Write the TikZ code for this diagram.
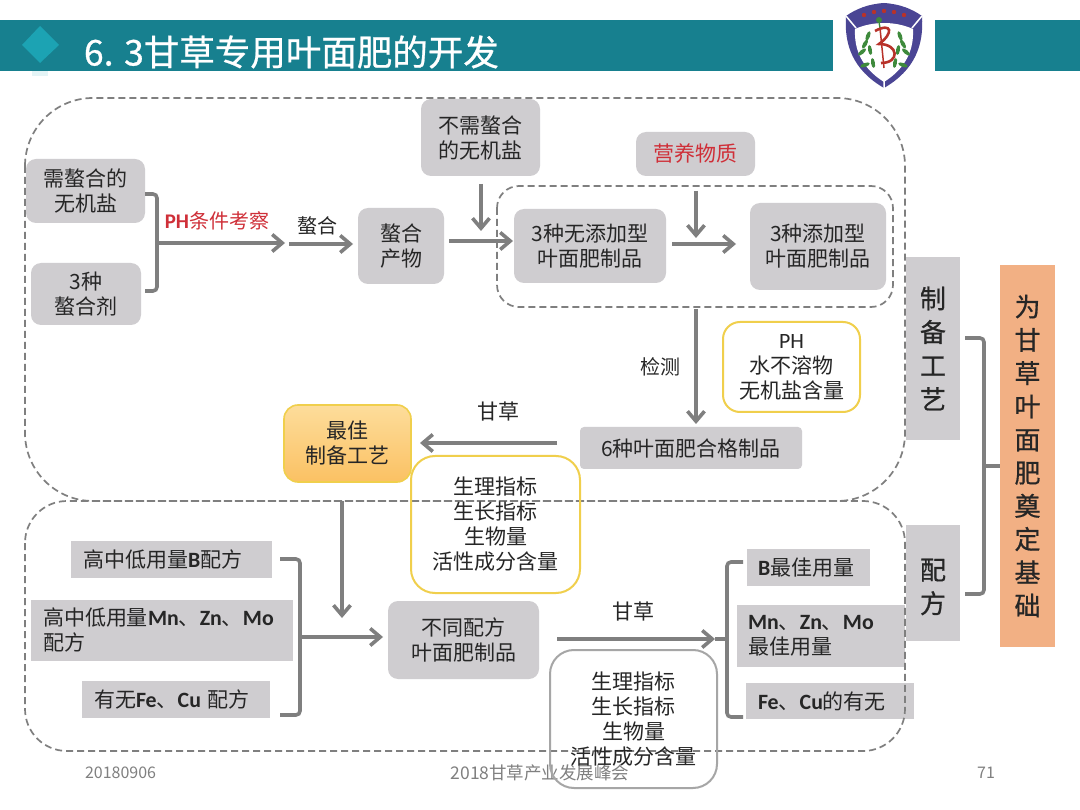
\documentclass[tikz,border=0pt]{standalone}
\usepackage{fontspec}
\setmainfont{Noto Sans CJK SC}
\newfontfamily\latinb{Carlito}[Scale=1.04]
\newfontfamily\heavy{Noto Sans CJK SC}[FakeBold=0.7]
\usetikzlibrary{arrows.meta,shapes.geometric}
\definecolor{teal1}{HTML}{17808F}
\definecolor{teal2}{HTML}{1CA3B3}
\definecolor{gbox}{HTML}{CFCDD0}
\definecolor{gline}{HTML}{7F7F7F}
\definecolor{tx}{HTML}{262626}
\definecolor{yel}{HTML}{F0CF4C}
\definecolor{shield}{HTML}{4A4594}
\definecolor{sred}{HTML}{B8322A}
\definecolor{sgreen}{HTML}{3E8A3C}
\definecolor{redt}{HTML}{CF2F38}
\definecolor{peach}{HTML}{F2B084}
\definecolor{orgtop}{HTML}{FDDD9B}
\definecolor{orgbot}{HTML}{FBC163}
\tikzset{
 x=1pt,y=-1pt,
 every node/.style={font=\fontsize{21}{25}\selectfont,text=tx,align=center,inner sep=0pt,outer sep=0pt},
 gr/.style={fill=gbox,rounded corners=10pt,anchor=center},
 sq/.style={fill=gbox,anchor=center},
 dsh/.style={draw=gline,line width=1.7pt,dash pattern=on 7pt off 4pt},
 arr/.style={draw=gline,line width=3.6pt,-{Straight Barb[length=10pt,width=17pt,line width=3.6pt]}},
 brk/.style={draw=gline,line width=3.6pt,rounded corners=4pt},
 stub/.style={draw=gline,line width=3.6pt},
 lab/.style={font=\fontsize{21}{24}\selectfont},
 yb/.style={draw=yel,line width=2pt,rounded corners=17pt,anchor=center},
 plain/.style={anchor=center},
 lf/.style={fill=sgreen,ellipse,minimum width=10pt,minimum height=4pt},
 sidet/.style={font=\fontsize{26}{33.6}\selectfont\heavy},
}
\newcommand{\bx}[6][]{\node[#2,minimum width=#5-#3,minimum height=#6-#4,#1] at ({(#3+#5)/2},{(#4+#6)/2})}
\newcommand{\B}[1]{{\latinb\bfseries #1}}
\begin{document}
\begin{tikzpicture}
\useasboundingbox (0,0) rectangle (1080,810);
\fill[white] (0,0) rectangle (1080,810);
% header
\fill[teal1] (0,20) rectangle (833,71);
\fill[teal1] (935,20) rectangle (1080,71);
\fill[teal2!12] (32,71) rectangle (48,76);
\fill[teal2] (40,26) -- (59,45) -- (40,63) -- (22,45) -- cycle;
\node[font=\fontsize{35.5}{38}\selectfont\heavy,text=white,anchor=west] (title) at (84,52) {6. 3甘草专用叶面肥的开发};
% logo
\fill[shield] (884,3) .. controls (868,4) and (856,9) .. (846,16) .. controls (844,45) and (853,70) .. (884,88) .. controls (915,70) and (924,45) .. (922,16) .. controls (912,9) and (900,4) .. (884,3) -- cycle;
\fill[white] (884,23) .. controls (874,23) and (864,25) .. (855,29) .. controls (854,50) and (862,68) .. (884,82) .. controls (906,68) and (914,50) .. (913,29) .. controls (904,25) and (894,23) .. (884,23) -- cycle;
\draw[white,line width=1.5pt] (846,16)--(856,28) (922,16)--(912,28) (884,80)--(884,88);
\foreach \p/\q in {864/15,874/12,884/11,894/12,904/15}{\fill[sred] (\p,\q) circle (2.2pt);}
\fill[sgreen] (879,20) circle (3pt);
\draw[sgreen,line width=1.4pt] (879,22) -- (880,28);
\draw[sred,line width=1.5pt] (880,28) -- (884,68);
\draw[sred,line width=2.6pt] (875,31) .. controls (892,22) and (894,33) .. (879,44) .. controls (899,44) and (900,63) .. (881,63);
\foreach \a/\b/\r in {868/36/70,865/44/60,862/52/40,870/50/100,873/63/100,865/65/20}{\node[lf,rotate=\r] (lL\a) at (\a,\b) {};}
\foreach \a/\b/\r in {900/36/110,903/44/120,906/52/140,898/50/80,895/63/80,903/65/160}{\node[lf,rotate=\r] (lR\a) at (\a,\b) {};}
% top nodes
\bx{gr}{26}{159}{145}{223} (n1) {需螯合的\\无机盐};
\bx{gr}{31}{263}{141}{325} (n2) {3种\\螯合剂};
\bx{gr}{358}{208}{444}{284} (n3) {螯合\\产物};
\bx{gr}{421}{99}{540}{176} (n4) {不需螯合\\的无机盐};
\bx[text=redt]{gr}{636}{132}{755}{176} (n5) {营养物质};
\bx{gr}{514}{209}{666}{283} (n6) {3种无添加型\\叶面肥制品};
\bx{gr}{750}{203}{886}{290} (n7) {3种添加型\\叶面肥制品};
\bx{yb}{723}{322}{860}{412} (n8) {\latinb PH\\水不溶物\\无机盐含量};
\bx[rounded corners=4pt]{gr}{580}{427}{802}{469} (n9) {6种叶面肥合格制品};
\bx[draw=yel,line width=1.6pt,rounded corners=14pt,top color=orgtop,bottom color=orgbot]{plain}{284}{405}{411}{482} (n10) {最佳\\制备工艺};
% side
\bx[sidet]{sq}{906}{257}{960}{440} (s1) {制\\备\\工\\艺};
\node[sq,minimum width=54,minimum height=116] (s2) at (933,583) {};
\node[sidet] (s2t) at (933,587) {配\\方};
\bx[sidet,font=\fontsize{26}{33.2}\selectfont\heavy,fill=peach]{plain}{1000}{265}{1055}{647} (s3) {为\\甘\\草\\叶\\面\\肥\\奠\\定\\基\\础};
% lower nodes
\bx[align=left,inner xsep=12pt,text width=177pt]{sq}{71}{541}{272}{578} (l1) {高中低用量\B{B}配方};
\bx[align=left,inner xsep=12pt,text width=238pt]{sq}{31}{600}{293}{661} (l2) {高中低用量\B{Mn}、\B{Zn}、\B{Mo}\\配方};
\bx[align=left,inner xsep=12pt,text width=164pt]{sq}{82}{681}{270}{718} (l3) {有无\B{Fe}、\B{Cu} 配方};
\bx{gr}{388}{601}{539}{679} (m) {不同配方\\叶面肥制品};
\bx[align=left,inner xsep=11pt,text width=101pt]{sq}{747}{549}{870}{586} (r1) {\B{B}最佳用量};
\bx[align=left,inner xsep=11pt,text width=146pt]{sq}{737}{605}{905}{667} (r2) {\B{Mn}、\B{Zn}、\B{Mo}\\最佳用量};
\bx[align=left,inner xsep=12pt,text width=144pt]{sq}{746}{683}{914}{719} (r3) {\B{Fe}、\B{Cu}的有无};
% dashed regions
\draw[dsh,rounded corners=68pt] (25,98) rectangle (905,501);
\draw[dsh,rounded corners=42pt] (25,501) rectangle (905,751);
\draw[dsh,rounded corners=22pt] (497,186) rectangle (893,307);
% transparent boxes over the dashes
\bx[rounded corners=24pt]{yb}{411}{456}{580}{593} (n11) {生理指标\\生长指标\\生物量\\活性成分含量};
% footer
\node[font=\fontsize{16}{18}\selectfont,text=gray,anchor=west] (f1) at (85,773) {20180906};
\node[font=\fontsize{17.5}{18}\selectfont,text=gray] (f2) at (540,773) {2018甘草产业发展峰会};
\node[font=\fontsize{16}{18}\selectfont,text=gray] (f3) at (986,773) {71};
\bx[draw=gray!70,line width=2pt,rounded corners=24pt]{plain}{550}{650}{717}{788} (n12) {生理指标\\生长指标\\生物量\\活性成分含量};
% labels
\node[lab,text=redt,font=\fontsize{20}{24}\selectfont] (t1) at (217,221) {\B{PH}条件考察};
\node[lab,font=\fontsize{20}{24}\selectfont] (t2) at (317,226) {螯合};
\node[lab,font=\fontsize{20}{24}\selectfont] (t3) at (660,367) {检测};
\node[lab] (t4) at (498,412) {甘草};
\node[lab] (t5) at (633,612) {甘草};
% connector anchors
\coordinate (b1a) at (145,194); \coordinate (b1b) at (157,194); \coordinate (b1c) at (157,291); \coordinate (b1d) at (145,291);
\coordinate (b1m) at (157,243); \coordinate (e1) at (285,243);
\coordinate (a2s) at (289,244);
\coordinate (a2e) at (353,244);
\coordinate (a3s) at (449,241); \coordinate (a3e) at (513,241);
\coordinate (a4s) at (481,184); \coordinate (a4e) at (481,231);
\coordinate (a5s) at (696,191); \coordinate (a5e) at (696,238);
\coordinate (a6s) at (672,244); \coordinate (a6e) at (736,244);
\coordinate (a7s) at (696,309); \coordinate (a7e) at (696,424);
\coordinate (a8s) at (557,443); \coordinate (a8e) at (420,443);
\coordinate (a9s) at (342,501); \coordinate (a9e) at (342,618);
\draw[brk] (b1a) -- (b1b) -- (b1c) -- (b1d);
\draw[arr] (b1m) -- (e1);
\draw[arr] (a2s) -- (a2e);
\draw[arr] (a3s) -- (a3e);
\draw[arr] (a4s) -- (a4e);
\draw[arr] (a5s) -- (a5e);
\draw[arr] (a6s) -- (a6e);
\draw[arr] (a7s) -- (a7e);
\draw[arr] (a8s) -- (a8e);
\draw[arr] (a9s) -- (a9e);
% lower connectors
\coordinate (b2a) at (280,559); \coordinate (b2b) at (300,559); \coordinate (b2c) at (300,715); \coordinate (b2d) at (280,715);
\coordinate (b2m) at (300,637); \coordinate (b2e) at (383,637);
\draw[brk] (b2a) -- (b2b) -- (b2c) -- (b2d);
\draw[arr] (b2m) -- (b2e);
\coordinate (b3a) at (743,562); \coordinate (b3b) at (727,562); \coordinate (b3c) at (727,717); \coordinate (b3d) at (743,717);
\coordinate (a10s) at (557,639); \coordinate (a10e) at (715,639); \coordinate (a10m) at (727,639);
\draw[brk] (b3a) -- (b3b) -- (b3c) -- (b3d);
\draw[arr] (a10s) -- (a10e);
\draw[stub] (a10e) -- (a10m);
% right bracket
\coordinate (b4a) at (965,338); \coordinate (b4b) at (984,338); \coordinate (b4c) at (984,594); \coordinate (b4d) at (965,594);
\coordinate (b4m) at (984,466);
\draw[brk] (b4a) -- (b4b) -- (b4c) -- (b4d);
\draw[stub] (b4m) -- (s3.west |- b4m);
\end{tikzpicture}
\end{document}
